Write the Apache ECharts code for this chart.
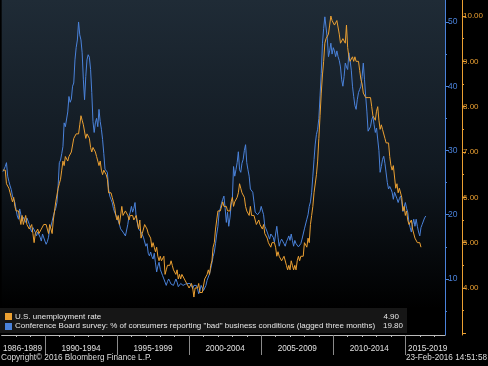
<!DOCTYPE html>
<html><head><meta charset="utf-8">
<script src="https://cdn.jsdelivr.net/npm/echarts@6/dist/echarts.min.js"></script>
<style>html,body{margin:0;padding:0;background:#000;}#c{width:488px;height:366px;}</style>
</head><body><div id="c"></div>
<script>
const startYear = 1987; // first month: Jan 1987, plotted at month end
const unemploymentRate = [
6.6,6.6,6.6,6.3,6.3,6.2,6.1,6.0,5.9,6.0,5.8,5.7,
5.7,5.7,5.7,5.4,5.6,5.4,5.4,5.6,5.4,5.4,5.3,5.3,
5.4,5.2,5.0,5.2,5.2,5.3,5.2,5.2,5.3,5.3,5.4,5.4,
5.4,5.3,5.2,5.4,5.4,5.2,5.5,5.7,5.9,5.9,6.2,6.3,
6.4,6.6,6.8,6.7,6.9,6.9,6.8,6.9,6.9,7.0,7.0,7.3,
7.3,7.4,7.4,7.4,7.6,7.8,7.7,7.6,7.6,7.3,7.4,7.4,
7.3,7.1,7.0,7.1,7.1,7.0,6.9,6.8,6.7,6.8,6.6,6.5,
6.6,6.6,6.5,6.4,6.1,6.1,6.1,6.0,5.9,5.8,5.6,5.5,
5.6,5.4,5.4,5.8,5.6,5.6,5.7,5.7,5.6,5.5,5.6,5.6,
5.6,5.5,5.5,5.6,5.6,5.3,5.5,5.1,5.2,5.2,5.4,5.4,
5.3,5.2,5.2,5.1,4.9,5.0,4.9,4.8,4.9,4.7,4.6,4.7,
4.6,4.6,4.7,4.3,4.4,4.5,4.5,4.5,4.6,4.5,4.4,4.4,
4.3,4.4,4.2,4.3,4.2,4.3,4.3,4.2,4.2,4.1,4.1,4.0,
4.0,4.1,4.0,3.8,4.0,4.0,4.0,4.1,3.9,3.9,3.9,3.9,
4.2,4.2,4.3,4.4,4.3,4.5,4.6,4.9,5.0,5.3,5.5,5.7,
5.7,5.7,5.7,5.9,5.8,5.8,5.8,5.7,5.7,5.7,5.9,6.0,
5.8,5.9,5.9,6.0,6.1,6.3,6.2,6.1,6.1,6.0,5.8,5.7,
5.7,5.6,5.8,5.6,5.6,5.6,5.5,5.4,5.4,5.5,5.4,5.4,
5.3,5.4,5.2,5.2,5.1,5.0,5.0,4.9,5.0,5.0,5.0,4.9,
4.7,4.8,4.7,4.7,4.6,4.6,4.7,4.7,4.5,4.4,4.5,4.4,
4.6,4.5,4.4,4.5,4.4,4.6,4.7,4.6,4.7,4.7,4.7,5.0,
5.0,4.9,5.1,5.0,5.4,5.6,5.8,6.1,6.1,6.5,6.8,7.3,
7.8,8.3,8.7,9.0,9.4,9.5,9.5,9.6,9.8,10.0,9.9,9.9,
9.8,9.8,9.9,9.9,9.6,9.4,9.4,9.5,9.5,9.4,9.8,9.3,
9.1,9.0,9.0,9.1,9.0,9.1,9.0,9.0,9.0,8.8,8.6,8.5,
8.3,8.3,8.2,8.2,8.2,8.2,8.2,8.0,7.8,7.8,7.7,7.9,
8.0,7.7,7.5,7.6,7.5,7.5,7.3,7.2,7.2,7.2,6.9,6.7,
6.6,6.7,6.7,6.2,6.3,6.1,6.2,6.2,6.0,5.7,5.8,5.6,
5.7,5.5,5.4,5.4,5.5,5.3,5.3,5.1,5.1,5.0,5.0,5.0,
4.9
];
const badConditions = [
26.7,26.5,27.5,28.1,26,25.2,24.5,23.9,22.9,22.4,21.9,20.8,
19.8,19.3,20.9,20,19,19.6,19.3,18.8,19.5,19.3,18.5,17.8,
17.3,18,18.2,17.3,16.7,17.3,17,16.5,15.9,17,17.3,15.9,
15.4,15.8,16.5,17.8,18.2,19,19.8,20.5,21,21.9,24.5,28.1,
28.5,29.5,30.6,34.3,33.7,33.7,36,38.4,37.5,38,40,40.5,
44.1,46,47.2,50,48,47.2,45.2,41,37.9,41.5,44.1,44.9,
44.5,42.6,39,34.5,32.8,34.3,35,33.7,36.4,34.5,33.3,31.7,
29.5,27.1,27,26.6,24,22.9,22.4,21.9,21,20.4,20.2,19.6,
19.3,18.5,17.8,18,17.3,17.5,16.7,17,18.5,19.8,20.4,21.3,
20.4,21,21.9,19.5,19.3,17.8,18,17.3,17.5,16.5,16.2,15.1,
15.5,14,13.6,14.2,13.5,13.1,14,12.5,11.1,12,12.6,11.5,
11.2,10.5,10,9.5,9,9.6,10,9.6,9.2,9.5,9,9.5,
10,9.5,8.8,9,9.3,9.5,9,8.8,9.2,9.5,9.3,9.5,
9.3,9,8.5,9,8.7,9,8.5,7.7,8.2,9,9.2,8.2,
8,9,9.8,10,10.8,11.6,12.5,13.5,14.2,15.5,17,18.2,
20.4,21,21.8,22.4,22.9,21,18.8,20.4,18.2,19.5,21.5,22.4,
27.5,26,27,28.1,29.8,27,26.6,28,28.6,30,30.9,28.1,
27,26,24,23.8,23.5,22,20.4,20.4,20,19.8,20.5,21.3,
21,20,18.2,17.8,17.3,17,16.2,17,17.3,16.5,15.7,17,
18.2,16.5,15.1,15.8,16.2,16,15.5,15.1,15.8,16.2,16.7,16,
17,16,15.1,16,15.5,15.5,15,14.7,15.5,16.2,16.5,17.8,
18,19.3,20,21.3,22,23.5,26,28.6,31,32.5,33.3,35,
38.5,42,46.7,49,50.8,51,47.5,44.6,45.5,46.7,45,46,
45.5,44.6,45.5,44.6,44,43,41,40,41.5,43.6,43,42.6,
45.2,44,42.5,40,38.4,37,36.4,37.9,39,39.5,40,41.5,
43.6,41,38.4,36,33,33,33.7,34.8,35.3,34,32.8,33.5,
33.7,30,26.6,27.5,28.6,29.1,28,26.5,25,24,24.4,24,
23.5,22.4,23.5,23.8,22.5,21.9,22.5,22.9,22,20.5,20.5,21.9,
21,20.4,18.8,18,17.3,18.5,19.3,18.2,19.3,18.2,17.3,16.7,
18,18.5,18.8,19.5,19.8
];
const periodLabels = ['1986-1989','1990-1994','1995-1999','2000-2004','2005-2009','2010-2014','2015-2019'];
const periodLabelPos = [1988.45,1992.5,1997.5,2002.5,2007.5,2012.5,2016.55];
const periodBounds = [1990,1995,2000,2005,2010,2015];
const yearTicks = [1988,1989,1990,1991,1992,1993,1994,1995,1996,1997,1998,1999,2000,2001,2002,2003,2004,2005,2006,2007,2008,2009,2010,2011,2012,2013,2014,2015,2016,2017];
const blueTicks = [10,20,30,40,50];
const blueMinor = [5,15,25,35,45];
const orangeTicks = [3,4,5,6,7,8,9,10];
const orangeLabels = [4,5,6,7,8,9,10];
const orangeMinor = [3.5,4.5,5.5,6.5,7.5,8.5,9.5];
const seriesNames = ['U.S. unemployment rate','Conference Board survey: % of consumers reporting "bad" business conditions (lagged three months)'];
const lastValues = ['4.90','19.80'];

const ORANGE = '#eba032', BLUE = '#4a82da';
const FONT = 'Liberation Sans';
const X_MIN = 1987, X_MAX = 2017.75;
const BLUE_MIN = 1.28, BLUE_MAX = 53.42, OR_MIN = 2.963, OR_MAX = 10.353;

const toPairs = arr => arr.map((v, i) => [startYear + (i + 1) / 12, v]);

const chart = echarts.init(document.getElementById('c'), null, {renderer: 'canvas'});
chart.setOption({
  animation: false,
  backgroundColor: '#000',
  grid: {
    left: 0, right: 43, top: 0, bottom: 31, show: true, borderWidth: 0,
    backgroundColor: {type: 'linear', x: 0, y: 0, x2: 0, y2: 1,
      colorStops: [{offset: 0, color: '#1f2b36'}, {offset: 0.5, color: '#111921'}, {offset: 0.92, color: '#000000'}, {offset: 1, color: '#000000'}]}
  },
  xAxis: [
    {type: 'value', min: X_MIN, max: X_MAX, position: 'bottom',
      axisLine: {show: true, lineStyle: {color: '#bbbbbb', width: 1}},
      axisTick: {show: true, customValues: yearTicks, length: 2, lineStyle: {color: '#bbbbbb'}},
      axisLabel: {show: true, customValues: periodLabelPos, margin: 10, color: '#e0e0e0', fontFamily: FONT, fontSize: 8.2,
        formatter: v => { const i = periodLabelPos.findIndex(p => Math.abs(p - v) < 0.01); return i >= 0 ? periodLabels[i] : ''; }},
      splitLine: {show: false}},
    {type: 'value', min: X_MIN, max: X_MAX, position: 'bottom',
      axisLine: {show: false},
      axisTick: {show: true, customValues: periodBounds, length: 20, lineStyle: {color: '#8a8a8a'}},
      axisLabel: {show: false}, splitLine: {show: false}}
  ],
  yAxis: [
    {type: 'value', position: 'right', min: BLUE_MIN, max: BLUE_MAX,
      axisLine: {show: true, lineStyle: {color: BLUE}},
      axisTick: {show: true, customValues: blueTicks, length: 4, lineStyle: {color: BLUE}},
      axisLabel: {show: true, customValues: blueTicks, margin: 3, color: BLUE, fontFamily: FONT, fontSize: 8.5},
      splitLine: {show: false}},
    {type: 'value', position: 'right', offset: 17, min: OR_MIN, max: OR_MAX,
      axisLine: {show: true, lineStyle: {color: ORANGE}},
      axisTick: {show: true, customValues: orangeTicks, length: 4, lineStyle: {color: ORANGE}},
      axisLabel: {show: true, customValues: orangeLabels, margin: 1, color: ORANGE, fontFamily: FONT, fontSize: 8,
        formatter: v => Number(v).toFixed(2)},
      splitLine: {show: false}},
    {type: 'value', position: 'right', min: BLUE_MIN, max: BLUE_MAX,
      axisLine: {show: false},
      axisTick: {show: true, customValues: blueMinor, length: 2, lineStyle: {color: BLUE}},
      axisLabel: {show: false}, splitLine: {show: false}},
    {type: 'value', position: 'right', offset: 17, min: OR_MIN, max: OR_MAX,
      axisLine: {show: false},
      axisTick: {show: true, customValues: orangeMinor, length: 2, lineStyle: {color: ORANGE}},
      axisLabel: {show: false}, splitLine: {show: false}}
  ],
  series: [
    {name: seriesNames[1], type: 'line', xAxisIndex: 0, yAxisIndex: 0, data: toPairs(badConditions),
      showSymbol: false, lineStyle: {color: BLUE, width: 1}, itemStyle: {color: BLUE}, z: 2},
    {name: seriesNames[0], type: 'line', xAxisIndex: 0, yAxisIndex: 1, data: toPairs(unemploymentRate),
      showSymbol: false, lineStyle: {color: ORANGE, width: 1}, itemStyle: {color: ORANGE}, z: 3}
  ],
  graphic: [
    {type: 'rect', left: 0, top: 308, shape: {width: 407, height: 25}, style: {fill: '#161616'}, z: 10},
    {type: 'rect', left: 5, top: 313, shape: {width: 7, height: 7}, style: {fill: ORANGE}, z: 11},
    {type: 'rect', left: 5, top: 323, shape: {width: 7, height: 7}, style: {fill: BLUE}, z: 11},
    {type: 'text', left: 15, top: 312.5, style: {text: seriesNames[0], fill: '#e6e6e6', font: '8px "Liberation Sans"'}, z: 11},
    {type: 'text', left: 15, top: 321.5, style: {text: seriesNames[1], fill: '#e6e6e6', font: '8px "Liberation Sans"'}, z: 11},
    {type: 'text', right: 89, top: 312.5, style: {text: lastValues[0], fill: '#e6e6e6', font: '8px "Liberation Sans"'}, z: 11},
    {type: 'text', right: 85, top: 321.5, style: {text: lastValues[1], fill: '#e6e6e6', font: '8px "Liberation Sans"'}, z: 11},
    {type: 'text', left: 1, top: 354, style: {text: 'Copyright\u00a9 2016 Bloomberg Finance L.P.', fill: '#dddddd', font: '8.2px "Liberation Sans"'}, z: 11},
    {type: 'text', right: 1, top: 354, style: {text: '23-Feb-2016 14:51:58', fill: '#dddddd', font: '8.2px "Liberation Sans"'}, z: 11}
  ]
});
</script></body></html>
